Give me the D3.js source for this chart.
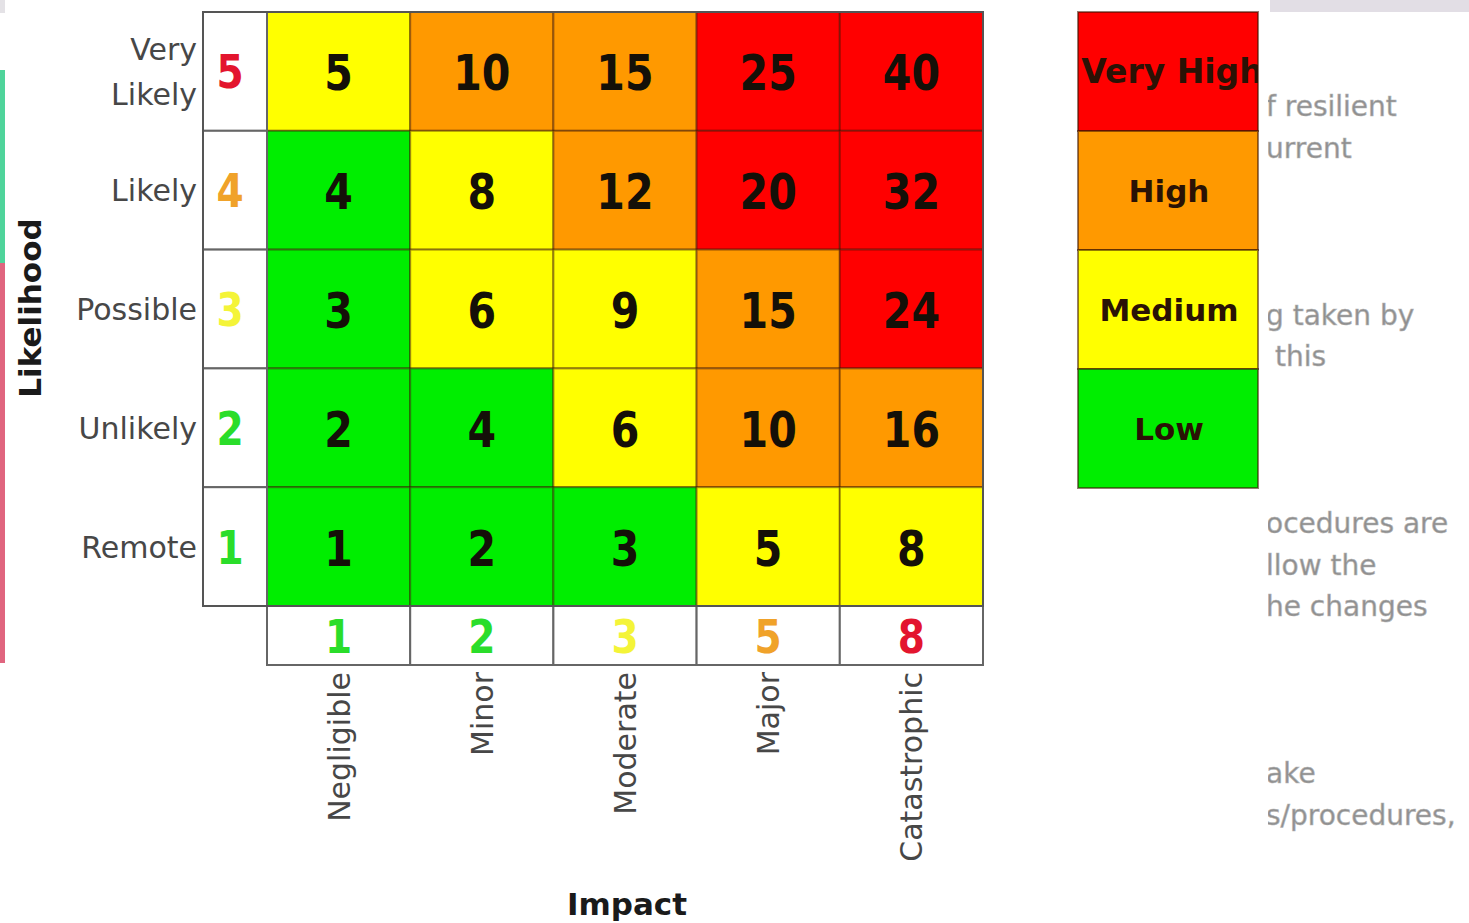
<!DOCTYPE html>
<html>
<head>
<meta charset="utf-8">
<script src="https://cdn.jsdelivr.net/npm/d3@7"></script>
<style>
  body { margin: 0; background: #fff; }
  svg { display: block; }
</style>
</head>
<body>
<div id="wrapper"></div>
<script>
// chart data
var likelihoodLabels = [["Very", "Likely"], ["Likely"], ["Possible"], ["Unlikely"], ["Remote"]]
var likelihoodScores = [5, 4, 3, 2, 1]
var likelihoodColors = ["#e3152e", "#f0a22a", "#f4f438", "#2add2a", "#2add2a"]

var impactLabels = ["Negligible", "Minor", "Moderate", "Major", "Catastrophic"]
var impactScores = [1, 2, 3, 5, 8]
var impactColors = ["#2add2a", "#2add2a", "#f4f438", "#f0a22a", "#e3152e"]

var riskValues = [
    [5, 10, 15, 25, 40],
    [4, 8, 12, 20, 32],
    [3, 6, 9, 15, 24],
    [2, 4, 6, 10, 16],
    [1, 2, 3, 5, 8]
]

var levelNames = ["Very High", "High", "Medium", "Low"]
var levelColors = ["#ff0000", "#ff9900", "#ffff00", "#00ee00"]
var levelBreaks = [5, 10, 20]

// page clippings around the picture
var sideText = [
    {t: "f resilient", y: 116}, {t: "urrent", y: 158},
    {t: "g taken by", y: 325}, {t: " this", y: 366},
    {t: "ocedures are", y: 533}, {t: "llow the", y: 575}, {t: "he changes", y: 616},
    {t: "ake", y: 783}, {t: "s/procedures,", y: 825}
]

var width = 1469
var height = 923

var svg = d3.select("#wrapper")
    .append("svg")
    .attr("width", width)
    .attr("height", height)

var fontMain = "DejaVu Sans, Verdana, sans-serif"

var x = d3.scaleBand()
    .domain(impactLabels)
    .range([267, 983])

var y = d3.scaleBand()
    .domain(d3.range(likelihoodScores.length))
    .range([12, 606])

var riskColor = d3.scaleThreshold()
    .domain(levelBreaks)
    .range(levelColors.slice().reverse())

// edge bits of the screenshot
svg.append("rect").attr("x", 0).attr("y", 0).attr("width", 5).attr("height", 13).attr("fill", "#e4e2e6")
svg.append("rect").attr("x", 0).attr("y", 70).attr("width", 5).attr("height", 193).attr("fill", "#4fd49b")
svg.append("rect").attr("x", 0).attr("y", 263).attr("width", 5).attr("height", 400).attr("fill", "#e0657f")
svg.append("rect").attr("x", 1270).attr("y", 0).attr("width", 199).attr("height", 12).attr("fill", "#e2dee5")

svg.append("clipPath").attr("id", "sideClip")
    .append("rect").attr("x", 1268).attr("y", 0).attr("width", 201).attr("height", height)

svg.append("g")
    .attr("clip-path", "url(#sideClip)")
    .selectAll("text")
    .data(sideText)
    .enter()
    .append("text")
    .attr("x", 1266)
    .attr("y", d => d.y)
    .attr("xml:space", "preserve")
    .style("font-family", fontMain)
    .style("font-size", "28px")
    .style("fill", "#8f8f8f")
    .style("stroke", "#b5b5b5")
    .style("stroke-width", 0.6)
    .text(d => d.t)

// matrix cells
var cells = []
riskValues.forEach((row, i) => {
    row.forEach((v, j) => {
        cells.push({row: i, col: impactLabels[j], value: v})
    })
})

var cell = svg.append("g")
    .selectAll("g")
    .data(cells)
    .enter()
    .append("g")

cell.append("rect")
    .attr("x", d => x(d.col))
    .attr("y", d => y(d.row))
    .attr("width", x.bandwidth())
    .attr("height", y.bandwidth())
    .style("fill", d => riskColor(d.value))
    .style("stroke", "rgba(60,20,0,0.45)")
    .style("stroke-width", 2)

cell.append("text")
    .attr("transform", d => `translate(${x(d.col) + x.bandwidth() / 2},${y(d.row) + y.bandwidth() / 2 + 19}) scale(0.84,1)`)
    .attr("text-anchor", "middle")
    .style("font-family", fontMain)
    .style("font-size", "49px")
    .style("font-weight", "bold")
    .style("fill", "#141008")
    .text(d => d.value)

// likelihood score column
var lik = svg.append("g")
    .selectAll("g")
    .data(likelihoodScores)
    .enter()
    .append("g")

lik.append("rect")
    .attr("x", 203)
    .attr("y", (d, i) => y(i))
    .attr("width", 64)
    .attr("height", y.bandwidth())
    .style("fill", "#fff")
    .style("stroke", "#666")
    .style("stroke-width", 2)

lik.append("text")
    .attr("transform", (d, i) => `translate(230,${y(i) + y.bandwidth() / 2 + 17}) scale(0.85,1)`)
    .attr("text-anchor", "middle")
    .style("font-family", fontMain)
    .style("font-size", "46px")
    .style("font-weight", "bold")
    .style("fill", (d, i) => likelihoodColors[i])
    .text(d => d)

lik.append("text")
    .attr("text-anchor", "end")
    .attr("transform", (d, i) => {
        var lines = likelihoodLabels[i].length
        return `translate(197,${y(i) + y.bandwidth() / 2 + 11 - (lines - 1) * 22})`
    })
    .style("font-family", fontMain)
    .style("font-size", "30px")
    .style("fill", "#474747")
    .selectAll("tspan")
    .data((d, i) => likelihoodLabels[i])
    .enter()
    .append("tspan")
    .attr("x", 0)
    .attr("dy", (d, k) => k == 0 ? 0 : 45)
    .text(d => d)

// impact score row
var imp = svg.append("g")
    .selectAll("g")
    .data(impactLabels)
    .enter()
    .append("g")

imp.append("rect")
    .attr("x", d => x(d))
    .attr("y", 606)
    .attr("width", x.bandwidth())
    .attr("height", 59)
    .style("fill", "#fff")
    .style("stroke", "#666")
    .style("stroke-width", 2)

imp.append("text")
    .attr("transform", d => `translate(${x(d) + x.bandwidth() / 2},${636 + 17}) scale(0.85,1)`)
    .attr("text-anchor", "middle")
    .style("font-family", fontMain)
    .style("font-size", "46px")
    .style("font-weight", "bold")
    .style("fill", (d, i) => impactColors[i])
    .text((d, i) => impactScores[i])

imp.append("text")
    .attr("transform", d => `translate(${x(d) + x.bandwidth() / 2 + 11},672) rotate(-90)`)
    .attr("text-anchor", "end")
    .style("font-family", fontMain)
    .style("font-size", "30px")
    .style("fill", "#474747")
    .text(d => d)

// outer frame
svg.append("rect")
    .attr("x", 203)
    .attr("y", 12)
    .attr("width", 983 - 203)
    .attr("height", 606 - 12)
    .style("fill", "none")
    .style("stroke", "#555")
    .style("stroke-width", 2)

// axis titles
svg.append("text")
    .attr("transform", "translate(41,308) rotate(-90)")
    .attr("text-anchor", "middle")
    .style("font-family", fontMain)
    .style("font-size", "31px")
    .style("font-weight", "bold")
    .style("fill", "#1a1a1a")
    .text("Likelihood")

svg.append("text")
    .attr("x", 627)
    .attr("y", 915)
    .attr("text-anchor", "middle")
    .style("font-family", fontMain)
    .style("font-size", "31px")
    .style("font-weight", "bold")
    .style("fill", "#1a1a1a")
    .text("Impact")

// legend
var ly = d3.scaleBand()
    .domain(levelNames)
    .range([12, 488])

svg.append("clipPath").attr("id", "legendClip")
    .append("rect").attr("x", 1078).attr("y", 12).attr("width", 180).attr("height", 476)

var legend = svg.append("g")
    .selectAll("g")
    .data(levelNames)
    .enter()
    .append("g")

legend.append("rect")
    .attr("x", 1078)
    .attr("y", d => ly(d))
    .attr("width", 180)
    .attr("height", ly.bandwidth())
    .style("fill", (d, i) => levelColors[i])
    .style("stroke", "rgba(60,20,0,0.55)")
    .style("stroke-width", 2)

legend.append("text")
    .attr("clip-path", "url(#legendClip)")
    .attr("x", (d, i) => i == 0 ? 1172 : 1169)
    .attr("y", d => ly(d) + ly.bandwidth() / 2 + 11)
    .attr("text-anchor", "middle")
    .style("font-family", fontMain)
    .style("font-size", (d, i) => i == 0 ? "33px" : "31px")
    .style("font-weight", "bold")
    .style("fill", "#2a1205")
    .text(d => d)
</script>
</body>
</html>
